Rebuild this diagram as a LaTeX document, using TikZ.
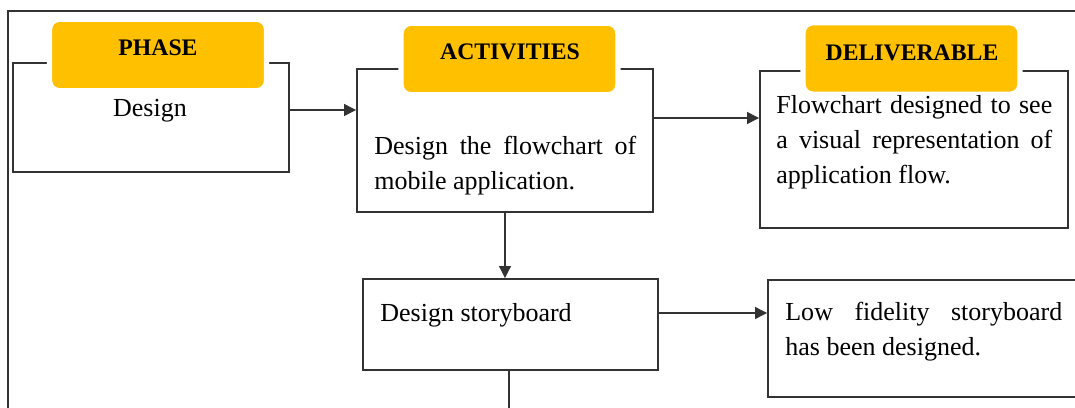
\documentclass[tikz,border=0pt]{standalone}
\usepackage{fontspec}
\setmainfont{Liberation Serif}
\usepackage{tikz}
\usetikzlibrary{arrows.meta}

\definecolor{tabgold}{HTML}{FFC000}
\definecolor{edge}{HTML}{333333}

\begin{document}
\begin{tikzpicture}[x=0.02cm, y=-0.02cm,
  box/.style={draw=edge, line width=1.1pt, inner sep=0pt},
  tab/.style={fill=tabgold, draw=white, line width=3pt, rounded corners=0.2cm, minimum width=4.34cm, minimum height=1.43cm, inner sep=0pt},
  head/.style={font=\fontsize{13.5}{16}\selectfont\bfseries, inner sep=0pt},
  body/.style={font=\fontsize{14.8}{19.9}\selectfont, inner sep=0pt},
  para/.style={body, align=justify, anchor=north west},
  link/.style={draw=black!80, line width=0.6pt, -{Triangle[length=0.24cm, width=0.24cm]}}]

\useasboundingbox (0,0) rectangle (1075,408);
\clip (0,0) rectangle (1075,408);

% outer frame
\path[draw=edge, line width=0.8pt] (1100,11) -- (8,11) -- (8,430);

\node[box, minimum width=5.52cm, minimum height=2.18cm] at(151,117.5) (phase) {};
\node[box, minimum width=5.92cm, minimum height=2.86cm] at(505,140.5) (activity) {};
\node[box, minimum width=6.16cm, minimum height=3.14cm] at(914,149.5) (deliver) {};
\node[box, minimum width=5.9cm, minimum height=1.82cm] at(510.5,324.5) (story) {};
\node[box, minimum width=6.44cm, minimum height=2.34cm] at(929,338.5) (lowfi) {};

\node[tab] at(158,55) (phase-tab) {};
\node[tab] at(509.5,59) (activity-tab) {};
\node[tab] at(911.5,58.5) (deliver-tab) {};

\node[head] at(158,47.5) (phase-head) {PHASE};
\node[head] at(510,51.5) (activity-head) {ACTIVITIES};
\node[head] at(912,52.5) (deliver-head) {DELIVERABLE};

\node[body, anchor=base] at(150,117) (phase-text) {Design};
\node[para, text width=5.24cm] at(374,136) (activity-text) {Design the flowchart of mobile application.};
\node[para, text width=5.52cm] at(776,95) (deliver-text) {Flowchart designed to see\linebreak a visual representation of application flow.};
\node[body, anchor=base west] at(380,322) (story-text) {Design storyboard};
\node[para, text width=5.54cm] at(785,302) (lowfi-text) {Low fidelity storyboard has been designed.};

% connector levels
\coordinate (row1) at (0,110);
\coordinate (row2) at (0,118);
\coordinate (row3) at (0,313);
\coordinate (down) at (509,440);

\draw[link] (phase.east |- row1) -- (activity.west |- row1);
\draw[link] (activity.east |- row2) -- (deliver.west |- row2);
\draw[link] (activity.south) -- (activity.south |- story.north);
\draw[link] (story.east |- row3) -- (lowfi.west |- row3);
\draw[link] (story.south -| down) -- (down);
\end{tikzpicture}
\end{document}
